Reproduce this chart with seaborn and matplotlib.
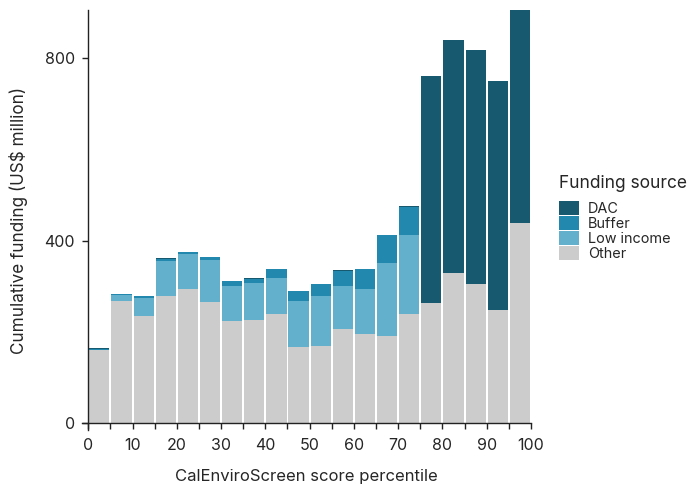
import numpy as np
import pandas as pd
import seaborn as sns
import matplotlib.pyplot as plt
from matplotlib.ticker import MultipleLocator

# bin centres (CalEnviroScreen percentile, 5-point bins)
bins = [2.5, 7.5, 12.5, 17.5, 22.5, 27.5, 32.5, 37.5, 42.5, 47.5,
        52.5, 57.5, 62.5, 67.5, 72.5, 77.5, 82.5, 87.5, 92.5, 97.5]
other = [161, 267, 234, 279, 293, 265, 223, 226, 239, 166,
         169, 206, 195, 190, 239, 263, 328, 304, 247, 438]
low_income = [0, 13, 40, 77, 77, 92, 77, 81, 79, 101,
              109, 94, 98, 160, 173, 0, 0, 0, 0, 0]
buffer = [2, 3, 4, 3, 4, 6, 11, 9, 20, 22,
          27, 34, 44, 62, 61, 0, 0, 0, 0, 0]
dac = [1, 0, 0, 2, 0, 2, 0, 2, 0, 0,
       0, 2, 0, 0, 2, 497, 511, 513, 502, 467]

sources = ["DAC", "Buffer", "Low income", "Other"]
colors = {"DAC": "#175a70", "Buffer": "#2288ad", "Low income": "#63b0cc", "Other": "#cccccc"}

df = pd.DataFrame({
    "pct": bins * 4,
    "funding": dac + buffer + low_income + other,
    "source": ["DAC"] * 20 + ["Buffer"] * 20 + ["Low income"] * 20 + ["Other"] * 20,
})

sns.set_style("ticks")
plt.rcParams["font.family"] = ["Inter", "DejaVu Sans"]

fig = plt.figure(figsize=(6.87, 4.86), dpi=100)
ax = fig.add_axes([0.1194, 0.1152, 0.6536, 0.8642])

sns.histplot(data=df, x="pct", weights="funding", hue="source", hue_order=sources,
             palette=colors, multiple="stack", binwidth=5, binrange=(0, 100),
             shrink=0.91, alpha=1, linewidth=0, ax=ax)

ax.set_xlim(-1.4, 100)
ax.set_ylim(-15, 905)
ax.spines["left"].set_position(("data", 0))
ax.spines["bottom"].set_position(("data", 0))
ax.spines["right"].set_visible(False)
ax.spines["top"].set_visible(False)
for s in ["left", "bottom"]:
    ax.spines[s].set_linewidth(1.0)
    ax.spines[s].set_color("#222222")

ax.set_yticks([0, 400, 800])
ax.xaxis.set_major_locator(MultipleLocator(10))
ax.xaxis.set_minor_locator(MultipleLocator(5))
ax.tick_params(axis="both", which="both", length=4.5, width=1, labelsize=11.5, color="#222222")
ax.tick_params(axis="x", pad=6)
ax.tick_params(axis="y", pad=5)

ax.set_xlabel("CalEnviroScreen score percentile", fontsize=12, labelpad=12)
ax.set_ylabel("Cumulative funding (US$ million)", fontsize=12.3, labelpad=12)

sns.move_legend(ax, "center left", bbox_to_anchor=(1.033, 0.505), frameon=False,
                title="Funding source", fontsize=10.4, title_fontsize=12.5,
                handlelength=1.4, handleheight=1.12, labelspacing=0.0, handletextpad=0.6)
leg = ax.get_legend()
leg._legend_box.align = "left"
leg._legend_box.sep = 7

fig.savefig("out.png", dpi=100)
